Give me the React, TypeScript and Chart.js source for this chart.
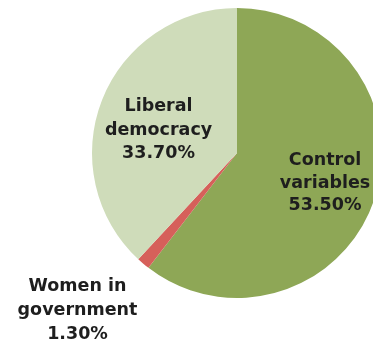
import React, { useEffect, useRef } from "react";
import { Chart, registerables } from "chart.js";

Chart.register(...registerables);

const categories = ["Control variables", "Women in government", "Liberal democracy"];
const labelLines = [
  ["Control", "variables", "53.50%"],
  ["Women in", "government", "1.30%"],
  ["Liberal", "democracy", "33.70%"],
];
const shares = [53.5, 1.3, 33.7];
const colors = ["#8EA756", "#D6605A", "#CFDCBA"];

// label anchors: offset from pie centre in units of outer radius (x centre, first baseline y)
const labelAnchors = [
  { dx: 0.607, dy: 0.083, lh: 22.5 },
  { dx: -1.1, dy: 0.955, lh: 24 },
  { dx: -0.541, dy: -0.288, lh: 23.4 },
];

const labelPlugin = {
  id: "sliceLabels",
  afterDatasetsDraw(chart: any) {
    const meta = chart.getDatasetMeta(0);
    const ctx = chart.ctx;
    ctx.save();
    ctx.font = "bold 17.5px 'DejaVu Sans', sans-serif";
    ctx.fillStyle = "#1e1e1e";
    ctx.textAlign = "center";
    ctx.textBaseline = "alphabetic";
    meta.data.forEach((arc: any, i: number) => {
      const { x, y, outerRadius } = arc.getProps(["x", "y", "outerRadius"], true);
      const a = labelAnchors[i];
      const cx = x + a.dx * outerRadius;
      const cy = y + a.dy * outerRadius;
      labelLines[i].forEach((line, j) => {
        ctx.fillText(line, cx, cy + j * a.lh);
      });
    });
    ctx.restore();
  },
};

export default function App() {
  const ref = useRef<HTMLCanvasElement>(null);
  useEffect(() => {
    if (!ref.current) return;
    const chart = new Chart(ref.current, {
      type: "pie",
      data: {
        labels: categories,
        datasets: [
          {
            data: shares,
            backgroundColor: colors,
            borderWidth: 0,
          },
        ],
      },
      options: {
        responsive: false,
        animation: false,
        layout: { padding: { left: 92, top: 8, right: 18, bottom: 46 } },
        plugins: {
          legend: { display: false },
          tooltip: { enabled: false },
        },
      },
      plugins: [labelPlugin],
    });
    return () => chart.destroy();
  }, []);
  return (
    <div style={{ position: "fixed", left: 0, top: 0, width: 400, height: 344, background: "#fff" }}>
      <canvas ref={ref} width={400} height={344} style={{ display: "block" }} />
    </div>
  );
}
